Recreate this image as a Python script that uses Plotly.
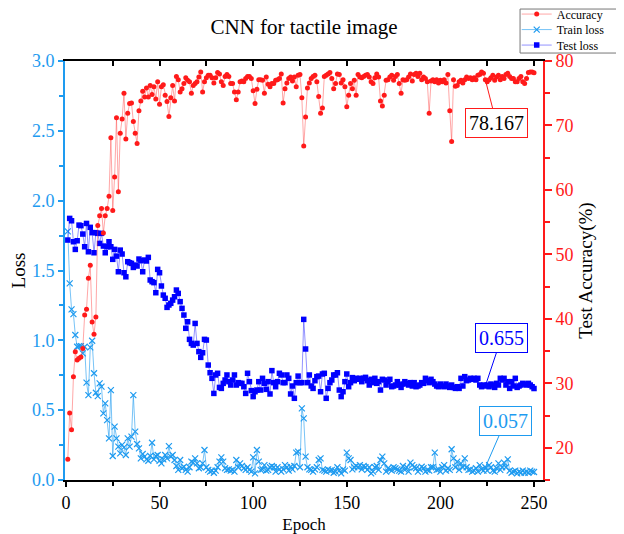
import plotly.graph_objects as go

# Test accuracy (%) per epoch, epochs 1..250
accuracy = [
    18.2, 25.4, 22.8, 31.0, 34.9, 33.6, 33.9, 34.1, 35.4, 40.6,
    41.5, 46.3, 48.3, 39.5, 37.6, 40.3, 54.5, 56.0, 57.1, 53.3,
    56.0, 57.1, 59.0, 68.1, 56.8, 62.0, 71.2, 59.7, 68.8, 71.0,
    75.0, 67.9, 71.9, 73.4, 73.5, 70.6, 68.8, 67.2, 72.3, 73.8,
    75.3, 74.4, 75.8, 74.4,
    76.2, 74.8, 76.0, 74.1, 76.8, 73.3, 76.0, 76.3, 74.7, 73.7,
    71.4, 74.3, 76.2, 73.8, 77.6, 77.1, 75.2, 75.7, 76.5, 77.4,
    77.0, 76.8, 75.0, 76.2, 76.5, 76.8, 77.5, 78.3, 75.2, 76.8,
    77.4, 77.8, 77.8, 77.4, 76.6, 77.4, 78.2, 78.0, 76.8, 76.2,
    77.6, 77.9, 77.6, 76.5, 76.5, 75.2, 74.0, 75.2, 76.8, 76.9,
    76.8, 77.3, 77.6, 77.6, 77.3, 75.4, 73.4, 75.6, 77.1, 77.1,
    77.0, 75.0, 77.5, 76.4, 76.0, 76.5, 76.5, 77.0, 77.1, 77.3,
    78.0,
    73.5, 75.7, 76.6, 77.3, 77.5, 76.9, 77.5, 76.0, 77.8, 77.9,
    74.3, 66.8, 71.3, 75.8, 76.6, 77.3, 77.6, 77.8, 76.8, 74.5,
    71.9, 72.7, 77.6, 77.8, 78.0, 78.2, 77.3, 75.7, 76.5, 78.0,
    77.9, 76.6, 77.1, 76.0, 72.9, 74.7, 76.5, 75.7, 77.0, 74.7,
    77.9, 77.5, 77.4, 77.6, 77.8, 77.9, 77.5, 76.8, 76.5, 77.4,
    78.0, 77.5, 73.8, 73.0, 74.7, 77.0, 77.1, 77.5, 77.8, 77.0,
    77.6, 77.9, 76.5, 75.0, 77.1, 77.0, 77.1, 77.5, 78.0,
    76.9, 77.9, 78.1, 77.6, 78.1, 77.1, 77.5, 77.3, 76.8,
    71.9, 76.9, 77.1, 76.8, 77.1, 76.6, 77.0, 76.8, 77.1, 76.6,
    77.9, 72.3, 67.5, 77.1, 76.1, 76.2, 76.8, 77.0, 76.6, 77.1,
    77.5, 77.3, 77.4, 77.1, 77.4, 77.1, 77.8, 77.9, 78.3, 78.1,
    77.1, 76.8, 77.1, 77.4, 77.8, 77.0, 77.5, 77.8, 77.1, 77.6,
    77.3, 77.9, 78.1, 77.6, 77.3, 77.3, 76.8, 76.8, 77.3, 77.6,
    76.8, 76.5, 77.3, 78.2, 78.3, 78.3, 78.167,
]

# Training loss per epoch
train_loss = [
    1.78,
    1.408, 1.222, 1.188, 1.038, 0.954, 0.959, 0.959, 0.907, 0.954, 0.697,
    0.608, 0.950, 0.997, 0.764, 0.625, 0.601, 0.692, 0.668, 0.477, 0.549,
    0.429, 0.298, 0.644, 0.172, 0.382, 0.298, 0.239, 0.191, 0.251, 0.234,
    0.179, 0.298, 0.239, 0.310, 0.608, 0.346, 0.258, 0.227, 0.155, 0.186,
    0.167, 0.148, 0.138, 0.172, 0.267, 0.148, 0.172, 0.179, 0.138, 0.119,
    0.148, 0.179, 0.155, 0.243,
    0.167, 0.179, 0.143, 0.100, 0.072, 0.143, 0.084, 0.095, 0.072, 0.060,
    0.091, 0.131, 0.124, 0.155, 0.119, 0.084, 0.091, 0.119, 0.215, 0.091,
    0.072, 0.060, 0.067, 0.052, 0.067, 0.091, 0.131, 0.162, 0.131, 0.084,
    0.072, 0.076, 0.067, 0.072, 0.060, 0.143, 0.091, 0.119, 0.100, 0.084,
    0.072, 0.091, 0.072, 0.060, 0.162, 0.048, 0.215, 0.131, 0.072,
    0.076, 0.107, 0.067, 0.072, 0.091, 0.100, 0.091, 0.060, 0.091, 0.076,
    0.060, 0.076, 0.107, 0.091, 0.067, 0.095, 0.076, 0.100, 0.196, 0.203,
    0.091, 0.513, 0.441, 0.167, 0.091, 0.076, 0.072, 0.060, 0.076, 0.091,
    0.143, 0.155, 0.072, 0.067, 0.060, 0.076, 0.067, 0.072, 0.052, 0.060,
    0.091, 0.067, 0.048, 0.076, 0.067, 0.196, 0.155, 0.143, 0.076, 0.091,
    0.100, 0.091, 0.107, 0.076, 0.100, 0.091, 0.072, 0.091, 0.048, 0.060,
    0.091, 0.100, 0.072, 0.143, 0.167, 0.119, 0.060, 0.084, 0.076, 0.067,
    0.091, 0.084, 0.076, 0.067, 0.060, 0.100, 0.072, 0.091, 0.060, 0.124,
    0.107, 0.091, 0.084, 0.060, 0.076, 0.095, 0.084, 0.060, 0.072, 0.067,
    0.091, 0.091, 0.196, 0.072, 0.076, 0.060, 0.091, 0.107, 0.067, 0.084,
    0.072, 0.220, 0.155, 0.091, 0.131, 0.072, 0.119, 0.091, 0.155, 0.091,
    0.072, 0.076, 0.060, 0.067, 0.084, 0.060, 0.107, 0.076, 0.067, 0.091,
    0.067, 0.107, 0.091, 0.067, 0.060, 0.084, 0.119, 0.072, 0.091, 0.124,
    0.091, 0.148, 0.067, 0.052, 0.060, 0.067, 0.048, 0.060, 0.052, 0.067,
    0.052, 0.060, 0.052, 0.067, 0.060, 0.057,
]

# Test loss per epoch
test_loss = [
    1.718, 1.873, 1.856, 1.706, 1.651, 1.713, 1.825, 1.821, 1.761, 1.670,
    1.837, 1.634, 1.809, 1.771, 1.627, 1.771, 1.766, 1.694, 1.766, 1.675,
    1.627, 1.670, 1.706, 1.670, 1.580, 1.651, 1.603, 1.491, 1.646, 1.618,
    1.484, 1.455, 1.563, 1.556, 1.551, 1.522, 1.539, 1.532, 1.582, 1.570,
    1.491, 1.575, 1.568, 1.594, 1.432, 1.420, 1.413, 1.341, 1.508, 1.484,
    1.389, 1.324, 1.301, 1.236, 1.253, 1.265, 1.288, 1.312, 1.360, 1.336,
    1.277, 1.229, 1.181, 1.086, 1.133, 1.007, 0.978, 0.966, 1.121, 0.978,
    0.919, 0.878, 0.911, 1.007, 1.002, 0.823, 0.768, 0.728, 0.620, 0.752,
    0.764, 0.663, 0.656, 0.692, 0.716, 0.752, 0.704, 0.680, 0.716, 0.752,
    0.680, 0.697, 0.692, 0.692, 0.668, 0.620, 0.764, 0.704, 0.640, 0.597,
    0.632, 0.644, 0.704, 0.644,
    0.728, 0.692, 0.649, 0.704, 0.616, 0.783, 0.697, 0.668, 0.704, 0.764,
    0.752, 0.697, 0.697, 0.752, 0.728, 0.616, 0.673, 0.585, 0.697, 0.744,
    0.697, 0.697, 1.150, 0.938, 0.697, 0.752, 0.673, 0.656, 0.711, 0.740,
    0.744, 0.632, 0.759, 0.764, 0.585, 0.656, 0.697, 0.716, 0.752, 0.752,
    0.768, 0.644, 0.597, 0.632, 0.704, 0.759, 0.668, 0.697, 0.733, 0.711,
    0.728, 0.721, 0.728, 0.704, 0.728, 0.735, 0.711, 0.680, 0.721, 0.697,
    0.728, 0.692, 0.704, 0.644, 0.721, 0.716, 0.680, 0.704, 0.721, 0.668,
    0.673, 0.680, 0.704, 0.680, 0.663, 0.687, 0.704, 0.692, 0.680, 0.697,
    0.673, 0.697, 0.668, 0.673, 0.680, 0.697, 0.692, 0.728, 0.711, 0.697,
    0.721, 0.704, 0.687, 0.673, 0.668, 0.687, 0.673, 0.668, 0.687, 0.673,
    0.663, 0.680, 0.663, 0.656, 0.668, 0.656, 0.728, 0.673, 0.740, 0.711,
    0.716, 0.728, 0.721, 0.728, 0.716, 0.728, 0.680, 0.668, 0.680, 0.673,
    0.680, 0.668, 0.687, 0.680, 0.663, 0.692, 0.680, 0.728, 0.716, 0.728,
    0.680, 0.704, 0.656, 0.704, 0.673, 0.728, 0.663, 0.673, 0.680, 0.692,
    0.687, 0.680, 0.692, 0.680, 0.668, 0.655,
]

epochs = list(range(1, len(accuracy) + 1))
label_epoch = 224

FONT = "Liberation Serif"
RED = "#FF1A1A"
LIGHT_BLUE = "#1E9BF0"
BLUE = "#0000FF"

fig = go.Figure()

fig.add_trace(go.Scatter(
    x=epochs, y=accuracy, name="Accuracy", yaxis="y2", legend="legend",
    mode="lines+markers",
    line=dict(color="rgba(255,60,60,0.45)", width=1),
    marker=dict(color=RED, size=5, symbol="circle"),
))
fig.add_trace(go.Scatter(
    x=list(range(1, len(train_loss) + 1)), y=train_loss, name="Train loss", legend="legend2",
    mode="lines+markers",
    line=dict(color="rgba(30,155,240,0.6)", width=1),
    marker=dict(color=LIGHT_BLUE, size=6, symbol="x-thin",
                line=dict(color=LIGHT_BLUE, width=1.2)),
))
fig.add_trace(go.Scatter(
    x=list(range(1, len(test_loss) + 1)), y=test_loss, name="Test loss", legend="legend3",
    mode="lines+markers",
    line=dict(color="rgba(40,40,255,0.5)", width=1),
    marker=dict(color=BLUE, size=5.5, symbol="square"),
))
# invisible copy on the top axis so its frame line and inward ticks get drawn
fig.add_trace(go.Scatter(
    x=list(range(1, len(test_loss) + 1)), y=test_loss, xaxis="x2",
    mode="markers", marker=dict(opacity=0), showlegend=False, hoverinfo="skip",
))

# labels for the final values
fig.add_annotation(x=label_epoch, y=accuracy[label_epoch - 1], xref="x", yref="y2",
                   text="78.167", showarrow=True, arrowhead=0, arrowwidth=1,
                   arrowcolor=RED, ax=11, ay=43, font=dict(family=FONT, size=20, color="black"),
                   bordercolor=RED, borderwidth=1, borderpad=3, bgcolor="white")
fig.add_annotation(x=label_epoch, y=test_loss[label_epoch - 1], xref="x", yref="y",
                   text="0.655", showarrow=True, arrowhead=0, arrowwidth=1,
                   arrowcolor=BLUE, ax=16, ay=-48, font=dict(family=FONT, size=20, color=BLUE),
                   bordercolor=BLUE, borderwidth=1, borderpad=3, bgcolor="white")
fig.add_annotation(x=label_epoch, y=train_loss[label_epoch - 1], xref="x", yref="y",
                   text="0.057", showarrow=True, arrowhead=0, arrowwidth=1,
                   arrowcolor=LIGHT_BLUE, ax=20, ay=-46, font=dict(family=FONT, size=20, color=LIGHT_BLUE),
                   bordercolor=LIGHT_BLUE, borderwidth=1, borderpad=3, bgcolor="white")

# frame around the three stacked legend entries
fig.add_shape(type="rect", xref="paper", yref="paper",
              x0=0.952, x1=1.161, y0=1.019, y1=1.124,
              line=dict(color="#777777", width=1), fillcolor="white", layer="below")

# one compact legend per entry so the rows sit closer than a single legend allows
legend_style = dict(xanchor="left", yanchor="middle", bgcolor="rgba(0,0,0,0)",
                    borderwidth=0, itemwidth=30,
                    font=dict(family=FONT, size=12, color="black"))

# the page adds an 8px body margin, so the figure is a bit smaller than the window
fig.update_layout(
    width=616, height=526,
    margin=dict(l=57, r=81, t=53, b=54, autoexpand=False),
    paper_bgcolor="white", plot_bgcolor="white",
    font=dict(family=FONT, size=15, color="black"),
    title=dict(text="CNN for tactile image", x=0.5, xref="paper", xanchor="center",
               y=0.964, yanchor="middle", font=dict(family=FONT, size=21, color="black")),
    xaxis=dict(
        range=[-0.5, 254.8], tick0=0, dtick=50, showgrid=False, zeroline=False,
        showline=True, linecolor="black", linewidth=2,
        ticks="outside", ticklen=5, tickwidth=1.5, tickcolor="black",
        minor=dict(dtick=25, ticks="outside", ticklen=4, tickcolor="black"),
        title=dict(text="Epoch", font=dict(family=FONT, size=17), standoff=10),
        tickfont=dict(family=FONT, size=18, color="black"),
    ),
    xaxis2=dict(
        range=[-0.5, 254.8], overlaying="x", side="top", anchor="y",
        tick0=0, dtick=25, showgrid=False, zeroline=False, showticklabels=False,
        showline=True, linecolor="black", linewidth=2,
        ticks="inside", ticklen=5, tickwidth=1.5, tickcolor="black",
    ),
    yaxis=dict(
        range=[0, 3], tick0=0, dtick=0.5, tickformat=".1f",
        showgrid=False, zeroline=False,
        showline=True, linecolor=LIGHT_BLUE, linewidth=2,
        ticks="outside", ticklen=5, tickwidth=1.5, tickcolor=LIGHT_BLUE,
        minor=dict(dtick=0.25, ticks="outside", ticklen=4, tickcolor=LIGHT_BLUE),
        tickfont=dict(family=FONT, size=18, color=LIGHT_BLUE),
        title=dict(text="Loss", font=dict(family=FONT, size=19, color="black"), standoff=8),
    ),
    yaxis2=dict(
        range=[15, 80], tick0=0, dtick=10, overlaying="y", side="right", anchor="x",
        showgrid=False, zeroline=False,
        showline=True, linecolor=RED, linewidth=2,
        ticks="outside", ticklen=7, tickwidth=1.5, tickcolor=RED,
        minor=dict(dtick=5, ticks="outside", ticklen=5, tickcolor=RED),
        tickfont=dict(family=FONT, size=18, color=RED),
        title=dict(text="Test Accuracy(%)", font=dict(family=FONT, size=19, color="black"), standoff=6),
    ),
    legend=dict(x=0.945, y=1.112, **legend_style),
    legend2=dict(x=0.945, y=1.075, **legend_style),
    legend3=dict(x=0.945, y=1.038, **legend_style),
    showlegend=True,
)

fig.write_html("out.html")
